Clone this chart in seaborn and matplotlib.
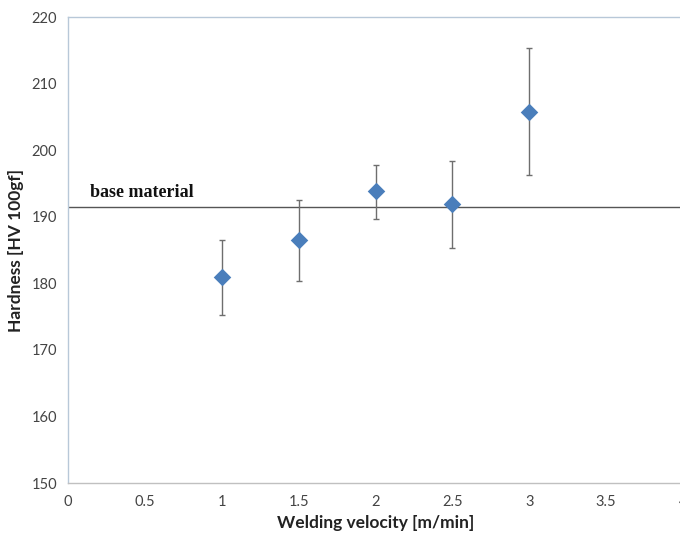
import matplotlib
matplotlib.use("Agg")
import matplotlib.pyplot as plt
import seaborn as sns
import pandas as pd

velocity = [1.0, 1.5, 2.0, 2.5, 3.0]
hardness = [180.9, 186.5, 193.8, 191.9, 205.8]
err_low = [5.7, 6.2, 4.2, 6.6, 9.5]
err_high = [5.6, 6.0, 4.0, 6.5, 9.5]
base_material = 191.5
x_ticks = [0, 0.5, 1, 1.5, 2, 2.5, 3, 3.5, 4]
x_tick_labels = ["0", "0.5", "1", "1.5", "2", "2.5", "3", "3.5", "4"]
y_ticks = [150, 160, 170, 180, 190, 200, 210, 220]

sns.set_style("white")
plt.rcParams['font.family'] = ['Lato', 'DejaVu Sans']

df = pd.DataFrame({"v": velocity, "h": hardness})

fig = plt.figure(figsize=(6.8, 5.35), dpi=100)
ax = fig.add_axes([68/680, 52/535, 615/680, 466/535])

ax.errorbar(velocity, hardness, yerr=[err_low, err_high], fmt='none',
            ecolor='#6e6e6e', elinewidth=1.0, capsize=2.5, capthick=1.0, zorder=2)
sns.scatterplot(data=df, x="v", y="h", marker='D', s=80, color='#4a7ebb',
                edgecolor='#4a7ebb', linewidth=0, ax=ax, zorder=3)

ax.axhline(base_material, color='#555555', linewidth=1.0, zorder=1)
ax.text(0.14, base_material + 0.9, "base material", fontfamily='Liberation Serif',
        fontweight='bold', fontsize=13, color='#111111', ha='left', va='bottom')

ax.set_xlim(0, 4)
ax.set_ylim(150, 220)
ax.set_xticks(x_ticks)
ax.set_xticklabels(x_tick_labels)
ax.set_yticks(y_ticks)
ax.tick_params(axis='both', which='both', length=4, width=0.8, color='#b8c4d0',
               labelsize=10.5, labelcolor='#444444', direction='out')
ax.tick_params(axis='x', pad=5)
ax.tick_params(axis='y', pad=4)

for side in ['top', 'left', 'bottom']:
    ax.spines[side].set_visible(True)
    ax.spines[side].set_color('#b8c8d8')
    ax.spines[side].set_linewidth(1.0)
ax.spines['bottom'].set_color('#c0c0c0')
ax.spines['right'].set_visible(False)

ax.set_xlabel("Welding velocity [m/min]", fontsize=12.5, fontweight='bold', color='#222222', labelpad=4)
ax.set_ylabel("Hardness [HV 100gf]", fontsize=12.5, fontweight='bold', color='#222222', labelpad=5)

fig.savefig("out.png", dpi=100)
